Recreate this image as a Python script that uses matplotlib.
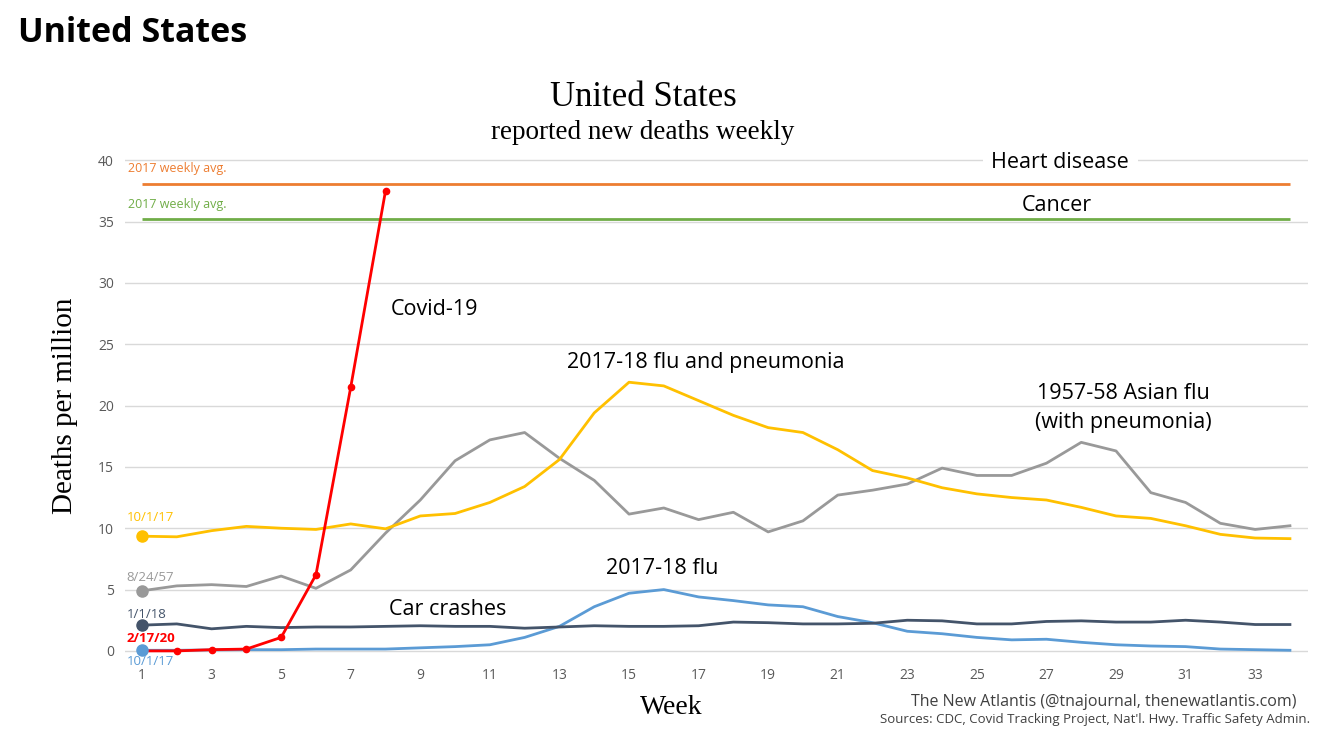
import matplotlib.pyplot as plt
import numpy as np

weeks = np.arange(1, 35)
covid_weeks = np.arange(1, 9)

covid = [0.0, 0.0, 0.1, 0.15, 1.1, 6.2, 21.5, 37.5]
flu_pneu = [9.35, 9.3, 9.8, 10.15, 10.0, 9.9, 10.35, 9.95, 11.0, 11.2,
            12.1, 13.4, 15.6, 19.4, 21.9, 21.6, 20.4, 19.2, 18.2, 17.8,
            16.4, 14.7, 14.1, 13.3, 12.8, 12.5, 12.3, 11.7, 11.0, 10.8,
            10.2, 9.5, 9.2, 9.15]
asian_flu = [4.9, 5.3, 5.4, 5.25, 6.1, 5.1, 6.6, 9.6, 12.3, 15.5,
             17.2, 17.8, 15.7, 13.9, 11.15, 11.65, 10.7, 11.3, 9.7, 10.6,
             12.7, 13.1, 13.6, 14.9, 14.3, 14.3, 15.3, 17.0, 16.3, 12.9,
             12.1, 10.4, 9.9, 10.2]
car = [2.1, 2.2, 1.8, 2.0, 1.9, 1.95, 1.95, 2.0, 2.05, 2.0,
       2.0, 1.85, 1.95, 2.05, 2.0, 2.0, 2.05, 2.35, 2.3, 2.2,
       2.2, 2.25, 2.5, 2.45, 2.2, 2.2, 2.4, 2.45, 2.35, 2.35,
       2.5, 2.35, 2.15, 2.15]
flu = [0.05, 0.05, 0.08, 0.1, 0.1, 0.15, 0.15, 0.15, 0.25, 0.35,
       0.5, 1.1, 2.0, 3.6, 4.7, 5.0, 4.4, 4.1, 3.75, 3.6,
       2.8, 2.3, 1.6, 1.4, 1.1, 0.9, 0.95, 0.7, 0.5, 0.4,
       0.35, 0.15, 0.1, 0.05]
heart_avg = 38.05
cancer_avg = 35.2

yticks = [0, 5, 10, 15, 20, 25, 30, 35, 40]
xticks = list(range(1, 34, 2))

sans = ['Open Sans', 'DejaVu Sans']
serif = ['Liberation Serif', 'DejaVu Serif']

fig = plt.figure(figsize=(13.38, 7.54), dpi=100)
ax = fig.add_axes([0.0934, 0.1286, 0.8842, 0.6671])
ax.set_xlim(0.51, 34.52)
ax.set_ylim(-0.5, 40.5)
for s in ax.spines.values():
    s.set_visible(False)
ax.set_yticks(yticks)
ax.set_xticks(xticks)
ax.tick_params(length=0, labelsize=10, labelcolor='#595959', pad=8)
for lab in ax.get_xticklabels() + ax.get_yticklabels():
    lab.set_family(sans)
ax.grid(axis='y', color='#d9d9d9', lw=1)
ax.set_axisbelow(True)

lw = 2.0
ax.hlines(heart_avg, weeks[0], weeks[-1], color='#ED7D31', lw=lw)
ax.hlines(cancer_avg, weeks[0], weeks[-1], color='#70AD47', lw=lw)
ax.plot(weeks, flu, color='#5B9BD5', lw=lw)
ax.plot(weeks, car, color='#44546A', lw=lw)
ax.plot(weeks, asian_flu, color='#999999', lw=lw)
ax.plot(weeks, flu_pneu, color='#FFC000', lw=lw)
ax.plot(covid_weeks, covid, color='#FF0000', lw=lw, marker='o', ms=4.5)

for series, c in [(flu_pneu, '#FFC000'), (asian_flu, '#999999'),
                  (car, '#44546A'), (flu, '#5B9BD5')]:
    ax.plot(weeks[0], series[0], 'o', color=c, ms=8, clip_on=False)

# start labels
ax.text(0.6, 39.0, '2017 weekly avg.', color='#ED7D31', fontsize=9, family=sans)
ax.text(0.6, 36.1, '2017 weekly avg.', color='#70AD47', fontsize=9, family=sans)
ax.text(0.55, 10.6, '10/1/17', color='#FFC000', fontsize=9.5, family=sans)
ax.text(0.55, 5.7, '8/24/57', color='#999999', fontsize=9.5, family=sans)
ax.text(0.55, 2.7, '1/1/18', color='#44546A', fontsize=9.5, family=sans)
ax.text(0.55, 0.7, '2/17/20', color='#FF0000', fontsize=9.5, family=sans, weight='bold')
ax.text(0.55, -0.85, '10/1/17', color='#5B9BD5', fontsize=9.5, family=sans, va='center')

# series labels
lab = dict(fontsize=15.5, family=sans, color='black', ha='center', va='center')
ax.text(27.4, 39.8, 'Heart disease',
        bbox=dict(facecolor='white', edgecolor='none', pad=6), **lab)
ax.text(27.3, 36.3, 'Cancer', **lab)
ax.text(9.4, 27.8, 'Covid-19', **lab)
ax.text(17.2, 23.5, '2017-18 flu and pneumonia', **lab)
ax.text(29.2, 19.8, '1957-58 Asian flu\n(with pneumonia)', linespacing=1.45, **lab)
ax.text(15.95, 6.75, '2017-18 flu', **lab)
ax.text(9.8, 3.35, 'Car crashes', **lab)

ax.set_xlabel('Week', family=serif, fontsize=20)
ax.xaxis.set_label_coords(0.462, -0.075)
ax.set_ylabel('Deaths per million', family=serif, fontsize=21, labelpad=14)

fig.text(0.0135, 0.956, 'United States', family=sans, fontsize=24.5,
         weight='bold', va='center')
fig.text(0.4805, 0.871, 'United States', family=serif, fontsize=25,
         ha='center', va='center')
fig.text(0.4805, 0.824, 'reported new deaths weekly', family=serif, fontsize=19.5,
         ha='center', va='center')
fig.text(0.969, 0.069, 'The New Atlantis (@tnajournal, thenewatlantis.com)',
         family=sans, fontsize=11.5, color='#404040', ha='right', va='center')
fig.text(0.979, 0.046, "Sources: CDC, Covid Tracking Project, Nat'l. Hwy. Traffic Safety Admin.",
         family=sans, fontsize=9.5, color='#404040', ha='right', va='center')

fig.savefig('out.png', dpi=100)
